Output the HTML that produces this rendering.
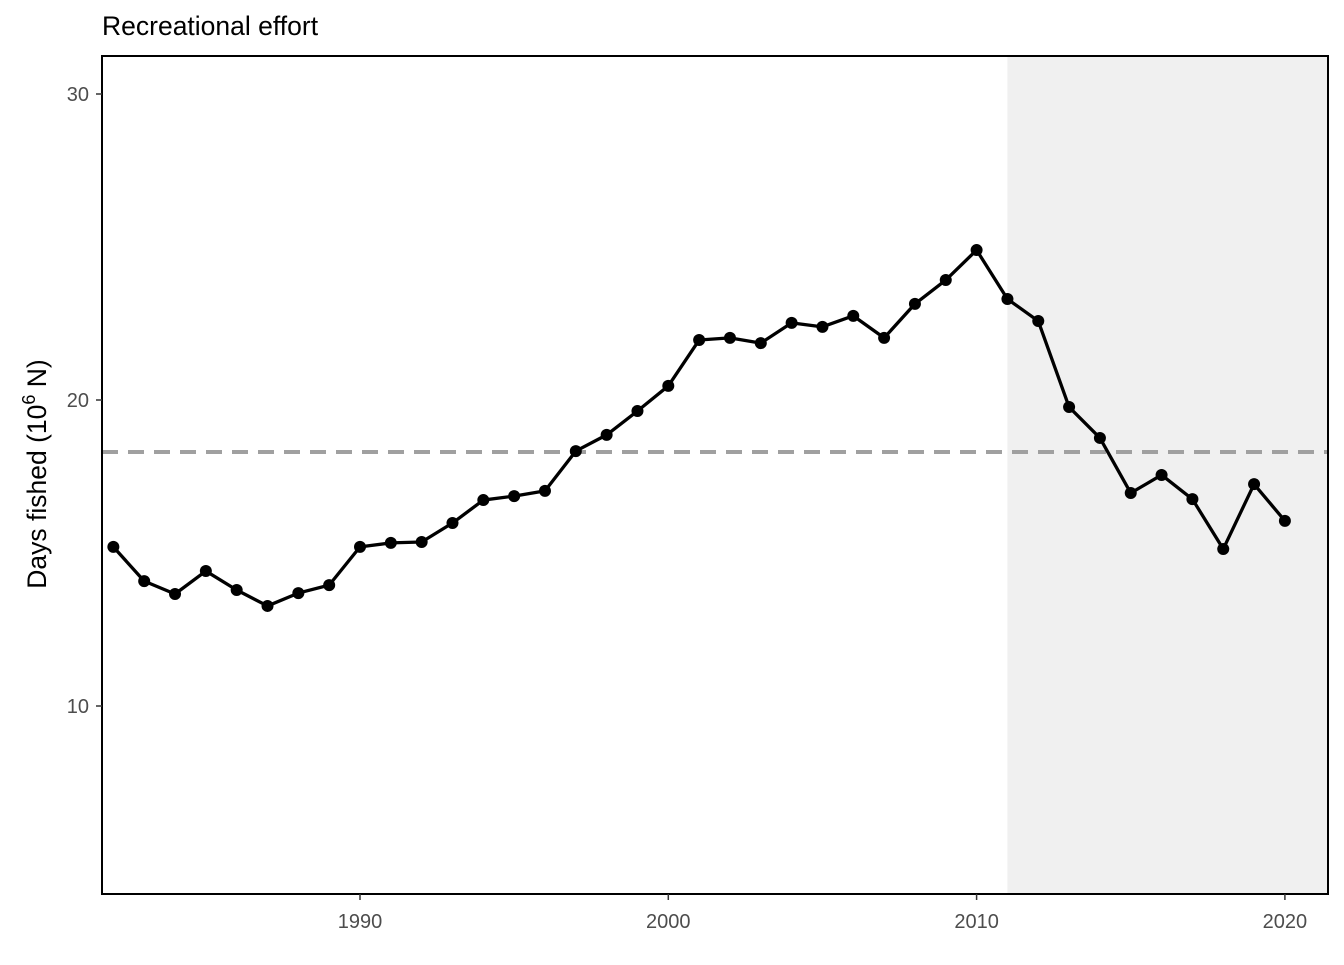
<!DOCTYPE html>
<html><head><meta charset="utf-8"><style>
body{margin:0;background:#fff;width:1344px;height:960px;overflow:hidden}
svg text{font-family:"Liberation Sans",Arial,sans-serif}
</style></head><body>
<svg id="chart" width="1344" height="960"></svg>
<script>
const years=[1982,1983,1984,1985,1986,1987,1988,1989,1990,1991,1992,1993,1994,1995,1996,1997,1998,1999,2000,2001,2002,2003,2004,2005,2006,2007,2008,2009,2010,2011,2012,2013,2014,2015,2016,2017,2018,2019,2020];
const effort=[15.2,14.08,13.66,14.41,13.79,13.27,13.69,13.95,15.2,15.33,15.36,15.98,16.73,16.86,17.03,18.33,18.86,19.64,20.46,21.96,22.03,21.86,22.52,22.39,22.75,22.03,23.14,23.92,24.9,23.3,22.58,19.77,18.76,16.96,17.55,16.76,15.13,17.25,16.05];
const xTicks=[1990,2000,2010,2020];
const yTicks=[10,20,30];
const refLevel=[18.3];
const shadeStart=[2011];
const NS="http://www.w3.org/2000/svg";
const svg=document.getElementById('chart');
const L=102,R=1328,T=56,B=894;
const xs=y=>360+(y-1990)*30.83;
const ys=v=>400-(v-20)*30.6;
function mk(t,a,p){const e=document.createElementNS(NS,t);for(const k in a)e.setAttribute(k,a[k]);(p||svg).appendChild(e);return e;}
const shade=mk('rect',{x:xs(shadeStart[0]),y:T,width:R-xs(shadeStart[0]),height:B-T,fill:'#f0f0f0'});


const ref=mk('line',{x1:L,x2:R,y1:ys(refLevel[0]),y2:ys(refLevel[0]),stroke:'#a0a0a0','stroke-width':4,'stroke-dasharray':'16,10'});


const line=mk('polyline',{points:years.map((y,i)=>xs(y)+','+ys(effort[i])).join(' '),fill:'none',stroke:'#000','stroke-width':3.3,'stroke-linejoin':'round'});


years.forEach((y,i)=>{const c=mk('circle',{cx:xs(y),cy:ys(effort[i]),r:6,fill:'#000'});

});
const frame=mk('rect',{x:L,y:T,width:R-L,height:B-T,fill:'none',stroke:'#000','stroke-width':2});


xTicks.forEach(t=>{const x=xs(t);mk('line',{x1:x,x2:x,y1:B,y2:B+6,stroke:'#333','stroke-width':1.5});
const tx=mk('text',{x:x,y:928,'text-anchor':'middle','font-size':20,fill:'#4d4d4d'});tx.textContent=t;

});
yTicks.forEach(t=>{const y=ys(t);mk('line',{x1:L-6,x2:L,y1:y,y2:y,stroke:'#333','stroke-width':1.5});
const tx=mk('text',{x:89,y:y+7,'text-anchor':'end','font-size':20,fill:'#4d4d4d'});tx.textContent=t;

});
</script>
<svg width="1344" height="960" style="position:absolute;left:0;top:0">
<text x="102" y="35" font-size="26.5" fill="#000" font-family="Liberation Sans, sans-serif">Recreational effort</text>
<text transform="translate(46,474) rotate(-90)" text-anchor="middle" font-size="26.5" fill="#000" font-family="Liberation Sans, sans-serif">Days fished (10<tspan dy="-11" font-size="18">6</tspan><tspan dy="11"> N)</tspan></text>
</svg>
</body></html>
